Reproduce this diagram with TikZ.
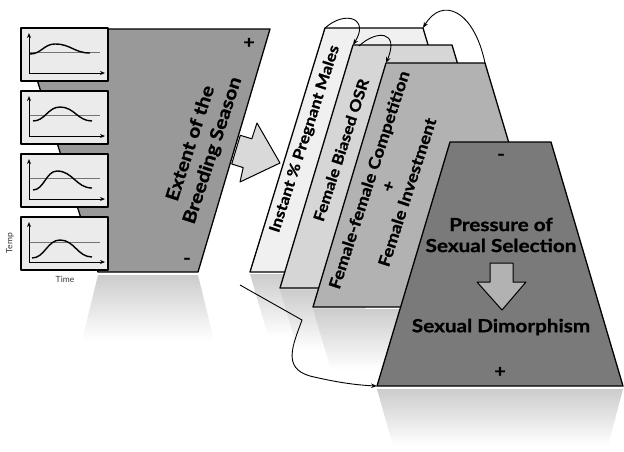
\documentclass[tikz,border=0pt]{standalone}
\usepackage{fontspec}
\setsansfont{Lato}
\newfontfamily\gillish{Lato}[BoldFeatures={FakeStretch=1.15,FakeBold=1}]
\newfontfamily\gillrot{Lato}[BoldFeatures={FakeBold=1}]
\usetikzlibrary{arrows.meta}
\definecolor{leftgray}{gray}{0.60}
\definecolor{boxgray}{gray}{0.92}
\definecolor{arrowgray}{gray}{0.85}
\definecolor{layA}{gray}{0.94}
\definecolor{layB}{gray}{0.84}
\definecolor{layC}{gray}{0.70}
\definecolor{layD}{gray}{0.48}
\definecolor{downgray}{gray}{0.70}
\begin{document}
\begin{tikzpicture}[x=1pt,y=-1pt,line join=round,
  edge/.style={draw=black,line width=1.3pt},
  refl/.style={top color=black!20,bottom color=white,draw=none},
  curvearrow/.style={draw=black,line width=0.9pt,-{Stealth[length=6pt,width=4.5pt]}},
  axisarrow/.style={draw=black,line width=1pt,-{Stealth[length=5pt,width=4pt]}},
  bell/.style={draw=black,line width=1.4pt},
  thresh/.style={draw=black!55,line width=0.7pt},
  rottext/.style={rotate=72,xscale=1.15,align=center,text=black,inner sep=0pt},
  bigtext/.style={rottext,font=\gillrot\bfseries\fontsize{18}{23}\selectfont},
  laytext/.style={rottext,font=\gillrot\bfseries\fontsize{15}{20}\selectfont},
  laytextc/.style={rottext,font=\gillrot\bfseries\fontsize{16}{20}\selectfont},
  fronttext/.style={font=\gillish\bfseries\fontsize{18}{21}\selectfont,align=center,text=black,inner sep=0pt},
  signtext/.style={font=\gillish\bfseries\fontsize{17}{17}\selectfont,text=black,inner sep=0pt},
  smalltext/.style={font=\sffamily\fontsize{8.5}{9}\selectfont,text=black!80,inner sep=0pt}]
\useasboundingbox (0,0) rectangle (624,451);

% left trapezoid and its reflection
\shade[refl] (98,275) -- (198,275) -- (214,340) -- (82,340) -- cycle;
\filldraw[fill=leftgray,edge] (21,29) -- (270,29) -- (198,272) -- (98,272) -- cycle;
\node[signtext] (lplus) at (249,43) {+};
\node[signtext] (lminus) at (187,261) {-};
\node[bigtext] (extent) at (202,147) {Extent of the\\Breeding Season};

% temperature boxes
\foreach \t/\th/\sx/\sy/\px/\py/\ex/\ey [count=\i] in
  {28/52/30/54/55/44/90/53,
   91/115/33/121/60/107/92/121,
   154/178/33/190/57/171/92/188,
   217/242/32/258/60/240/92/257}{
  \pgfmathsetmacro{\b}{\t+53}
  \pgfmathsetmacro{\ax}{\b-8}
  \pgfmathsetmacro{\at}{\t+5}
  \pgfmathsetmacro{\caa}{\sx+0.45*(\px-\sx)}
  \pgfmathsetmacro{\cab}{\px-0.45*(\px-\sx)}
  \pgfmathsetmacro{\cba}{\px+0.45*(\ex-\px)}
  \pgfmathsetmacro{\cbb}{\ex-0.45*(\ex-\px)}
  \filldraw[fill=boxgray,edge] (21,\t) rectangle (108,\b);
  \draw[thresh] (29,\th) -- (100,\th);
  \draw[axisarrow] (29,\ax) -- (29,\at);
  \draw[axisarrow] (29,\ax) -- (105,\ax);
  \draw[bell] (\sx,\sy) .. controls (\caa,\sy) and (\cab,\py) .. (\px,\py)
     .. controls (\cba,\py) and (\cbb,\ey) .. (\ex,\ey);
}
\node[smalltext,rotate=90] (temp) at (10,243) {Temp};
\node[smalltext] (time) at (65,279) {Time};

% block arrow
\filldraw[fill=arrowgray,edge,line width=1pt] (240.3,135.3) -- (251.8,138.8) -- (257,123)
  -- (280,163) -- (240,182) -- (243.2,167.6) -- (231.7,164) -- cycle;

% layers
\shade[refl] (250,274) -- (330,274) -- (348,336) -- (268,336) -- cycle;
\filldraw[fill=layA,edge] (325,28) coordinate (a1) -- (423,28) coordinate (a2)
  -- (496,272) -- (250,272) -- cycle;
\node[laytext] (instant) at (305,139) {Instant \% Pregnant Males};

\shade[refl] (280,290) -- (360,290) -- (378,350) -- (298,350) -- cycle;
\filldraw[fill=layB,edge] (353,45) coordinate (b1) -- (452,45) coordinate (b2)
  -- (525,288) -- (280,288) -- cycle;
\node[laytext] (osr) at (341,150) {Female Biased OSR};

\shade[refl] (313,309) -- (400,309) -- (418,370) -- (331,370) -- cycle;
\filldraw[fill=layC,edge] (386,63) coordinate (c1) -- (485,63) coordinate (c2)
  -- (558,307) -- (313,307) -- cycle;
\node[laytextc] (compet) at (388,186) {Female-female Competition\\+\\Female Investment};

\shade[refl] (377,389) -- (623,389) -- (608,446) -- (393,446) -- cycle;
\filldraw[fill=layD,edge] (450,142) -- (551,142) -- (623,386) -- (377,386) coordinate (d1) -- cycle;
\node[signtext] (fminus) at (501,157) {-};
\node[fronttext] (pressure) at (501,235) {Pressure of\\Sexual Selection};
\filldraw[fill=downgray,draw=black,line width=1pt] (490,263) -- (513,263) -- (513,282)
  -- (526,282) -- (502,310) -- (477,282) -- (490,282) -- cycle;
\node[fronttext] (dimorph) at (501,327) {Sexual Dimorphism};
\node[signtext] (fplus) at (500,372) {+};

% curved arrows
\draw[curvearrow] (a1) .. controls (345,10) and (370,18) .. (b1);
\draw[curvearrow] ([xshift=6pt,yshift=-1pt]b1) .. controls (376,30) and (400,30) .. (c1);
\draw[curvearrow] (c2) .. controls (474,10) and (442,-4) .. (a2);
\coordinate (s0) at (240,285);
\coordinate (s1) at (302,320);
\draw[curvearrow] (s0) -- (s1) .. controls (293,345) and (282,368) .. (310,376)
  .. controls (335,382) and (355,385) .. (d1);
\end{tikzpicture}
\end{document}
